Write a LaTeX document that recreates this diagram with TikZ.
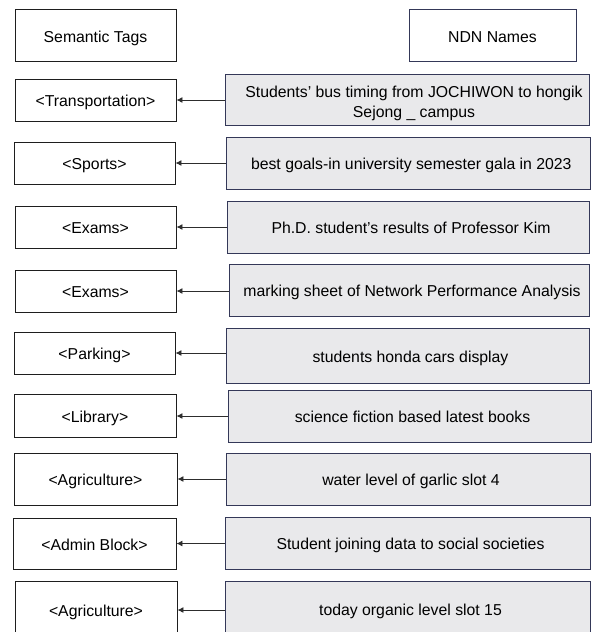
\documentclass[tikz,border=0pt]{standalone}
\usepackage{fontspec}
\setmainfont{Liberation Sans}
\usetikzlibrary{arrows.meta}
\definecolor{tagline}{RGB}{30,30,30}
\definecolor{nameline}{RGB}{52,56,88}
\definecolor{namefill}{RGB}{233,233,235}
\definecolor{linkline}{RGB}{45,45,45}
\tikzset{
  base/.style={rectangle, inner sep=2pt, align=center, text=black,
    font=\fontsize{15.8}{20}\selectfont},
  oneline/.style={text height=15.5pt, text depth=2.5pt},
  tagbox/.style={base, oneline, draw=tagline, fill=white, line width=0.9pt},
  namebox/.style={base, draw=nameline, fill=namefill, line width=0.9pt},
  nameline/.style={namebox, oneline, execute at begin node={\hspace*{6pt}}},
  link/.style={draw=linkline, line width=0.9pt, -{Latex[length=6pt,width=6pt]}},
}
\begin{document}
\begin{tikzpicture}[x=1pt, y=-1pt]
\useasboundingbox (0,0) rectangle (592,632);
\clip (0,0) rectangle (592,632);
\fill[white] (0,0) rectangle (592,632);

% column headers
\node[tagbox, minimum width=161pt, minimum height=52pt] (hdrL) at (95.5,35.5) {Semantic Tags};
\node[namebox, oneline, fill=white, minimum width=167pt, minimum height=52pt] (hdrR) at (492.5,35.5) {NDN Names};

% semantic tags (left column)
\node[tagbox, minimum width=161pt, minimum height=42pt] (L1) at (95.5,100) {<Transportation>};
\node[tagbox, minimum width=161pt, minimum height=42pt] (L2) at (94.5,163) {<Sports>};
\node[tagbox, minimum width=161pt, minimum height=42pt] (L3) at (95.5,227) {<Exams>};
\node[tagbox, minimum width=161pt, minimum height=42pt] (L4) at (95.5,291) {<Exams>};
\node[tagbox, minimum width=161pt, minimum height=42pt] (L5) at (94.5,353) {<Parking>};
\node[tagbox, minimum width=162pt, minimum height=43pt] (L6) at (95,416) {<Library>};
\node[tagbox, minimum width=163pt, minimum height=52pt] (L7) at (95.5,479) {<Agriculture>};
\node[tagbox, minimum width=163pt, minimum height=51pt] (L8) at (94.5,543.5) {<Admin Block>};
\node[tagbox, minimum width=162pt, minimum height=58pt] (L9) at (96,610) {<Agriculture>};

% NDN names (right column)
\node[namebox, minimum width=364pt, minimum height=51pt] (R1) at (407,99.5)
  {\hspace*{14pt}\rule{0pt}{18.3pt}Students’ bus timing from JOCHIWON to hongik\\
   \hspace*{14pt}Sejong \_ campus};
\node[nameline, minimum width=364pt, minimum height=52pt] (R2) at (408.3,163.3)
  {best goals-in university semester gala in 2023};
\node[nameline, minimum width=362pt, minimum height=52pt] (R3) at (408,227.2)
  {Ph.D. student’s results of Professor Kim};
\node[nameline, minimum width=360pt, minimum height=52pt] (R4) at (409,290)
  {marking sheet of Network Performance Analysis};
\node[nameline, minimum width=363pt, minimum height=55pt] (R5) at (407.5,355.5)
  {students honda cars display};
\node[nameline, minimum width=363pt, minimum height=52pt] (R6) at (409.5,416)
  {science fiction based latest books};
\node[nameline, minimum width=364pt, minimum height=52pt] (R7) at (408,479)
  {water level of garlic slot 4};
\node[nameline, minimum width=365pt, minimum height=52pt] (R8) at (407.5,543.3)
  {Student joining data to social societies};
\node[nameline, minimum width=365pt, minimum height=56pt] (R9) at (407.5,609)
  {today organic level slot 15};

% each name points to its tag
\foreach \i in {1,...,9}{
  \draw[link] (R\i.west |- L\i.east) -- (L\i.east);
}
\end{tikzpicture}
\end{document}
